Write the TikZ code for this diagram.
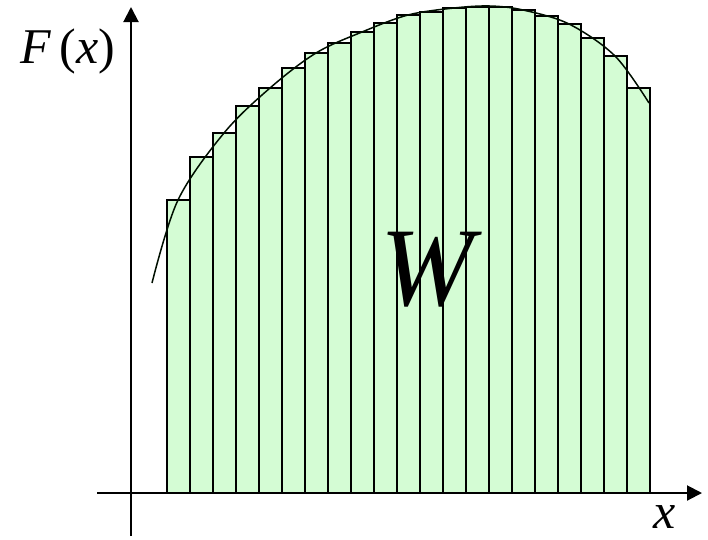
\documentclass[tikz,border=0pt]{standalone}
\usepackage{fontspec}
\setmainfont{Liberation Serif}
\usetikzlibrary{arrows.meta}
\definecolor{barfill}{HTML}{D4FCD4}
\tikzset{
  bar/.style={draw=black, fill=barfill, line width=1.5pt},
  axis/.style={line width=2pt, -{Triangle[length=15pt,width=15pt]}},
  curve/.style={line width=1.5pt, black!85!green!40!black},
  lab/.style={font=\fontsize{50}{60}\selectfont\itshape, inner sep=0pt},
  biglab/.style={font=\fontsize{112}{120}\selectfont\itshape, inner sep=0pt}
}
\begin{document}
\begin{tikzpicture}[x=1pt,y=-1pt]
\useasboundingbox (0,0) rectangle (708,539);
\foreach \i/\t in {0/200,1/157,2/133,3/106,4/88,5/68,6/53,7/43,8/32,9/23,10/15,11/12,12/8,13/7,14/7,15/10,16/16,17/24,18/38,19/56,20/88}{
  \draw[bar] ({167+23*\i},493) rectangle ({190+23*\i},\t);
}
\draw[curve] plot[smooth, tension=0.55] coordinates {(152,283) (178,200) (224,133) (270,88) (316,53) (362,32) (408,15) (454,8) (490,6) (523,10) (569,24) (615,56) (649,103)};
\coordinate (xs) at (97,493);
\coordinate (xe) at (702,493);
\coordinate (ys) at (131,536);
\coordinate (ye) at (131,7);
\draw[axis] (xs) -- (xe);
\draw[axis] (ys) -- (ye);
\node[lab] (Flab) at (68,51) {F\,{\upshape(}x{\upshape)}};
\node[biglab] (W) at (427,270) {W};
\node[lab] (xlab) at (665,517) {x};
\end{tikzpicture}
\end{document}
